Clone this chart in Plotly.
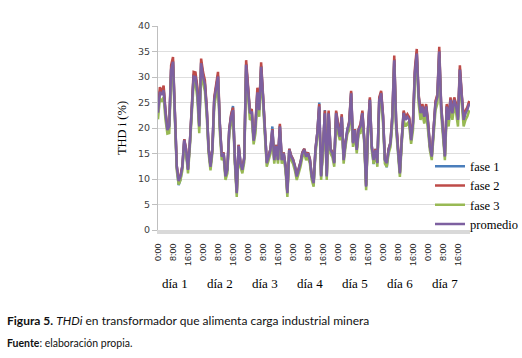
import plotly.graph_objects as go

# Hourly THDi values (%), 7 days starting at 0:00 of day 1
promedio = [
    23.0, 27.1, 26.5, 27.4, 22.9, 19.6, 20.3, 31.4, 33.0, 24.0,
    12.4, 9.6, 10.5, 12.4, 17.6, 15.7, 11.8, 17.0, 24.0, 30.1,
    30.0, 27.1, 20.3, 32.7, 30.1, 28.5, 23.5, 15.7, 12.4, 15.7,
    25.5, 27.5, 30.1, 20.3, 14.4, 15.0, 10.5, 11.8, 19.6, 22.2,
    23.5, 13.7, 7.2, 16.5, 13.0, 11.8, 14.0, 32.4, 26.8, 22.9,
    23.2, 17.5, 20.3, 27.0, 23.5, 32.0, 26.1, 20.0, 13.1, 14.4,
    15.7, 19.6, 13.7, 16.5, 13.7, 20.3, 13.7, 15.0, 12.4, 7.2,
    15.7, 14.4, 13.7, 12.4, 10.5, 11.8, 13.1, 15.0, 15.7, 14.4,
    15.0, 13.7, 10.5, 9.2, 15.7, 19.0, 24.2, 10.5, 15.7, 22.9,
    10.5, 22.9, 15.7, 15.0, 13.1, 22.9, 20.3, 18.3, 22.2, 13.7,
    17.0, 19.6, 20.9, 26.8, 17.0, 19.6, 15.7, 19.6, 20.3, 22.9,
    17.6, 8.5, 19.6, 25.5, 16.3, 13.7, 15.7, 13.1, 25.5, 26.8,
    22.2, 13.7, 13.1, 15.7, 17.0, 22.2, 33.3, 20.9, 15.7, 11.1,
    17.6, 22.9, 21.6, 22.2, 21.6, 17.6, 20.9, 30.7, 34.6, 26.1,
    22.9, 24.2, 22.2, 24.2, 20.9, 16.3, 14.4, 19.6, 24.8, 26.1,
    35.0, 24.2, 19.0, 14.4, 24.2, 21.6, 25.5, 22.9, 25.5, 24.2,
    21.6, 31.4, 26.1, 21.6, 22.9, 23.6, 24.8,
]

fase1 = [
    23.2, 27.3, 26.7, 27.6, 23.1, 19.8, 20.5, 31.6, 33.2, 24.2,
    12.6, 8.8, 9.9, 12.6, 17.8, 15.0, 12.0, 17.2, 24.2, 30.3,
    30.2, 27.3, 20.5, 32.9, 30.3, 28.7, 23.7, 15.9, 12.6, 15.9,
    25.7, 27.7, 30.3, 20.5, 14.6, 15.2, 10.7, 12.0, 19.8, 22.4,
    24.3, 13.9, 7.4, 16.7, 13.2, 12.0, 14.2, 32.6, 27.0, 23.1,
    23.4, 17.7, 20.5, 27.2, 23.7, 32.2, 26.3, 20.2, 13.3, 14.6,
    15.9, 20.3, 13.9, 16.7, 13.9, 20.5, 13.9, 15.2, 12.6, 7.4,
    15.9, 14.6, 13.9, 12.6, 10.7, 12.0, 13.3, 15.2, 15.9, 14.6,
    15.2, 13.9, 10.7, 9.4, 15.9, 19.2, 25.0, 10.7, 15.9, 23.5,
    10.7, 23.1, 15.9, 15.2, 13.3, 23.1, 20.5, 18.5, 22.4, 13.9,
    17.2, 19.8, 21.1, 27.0, 17.2, 19.8, 15.9, 19.8, 20.5, 23.1,
    17.8, 8.7, 19.8, 25.7, 16.5, 12.9, 15.9, 13.3, 25.7, 27.0,
    22.4, 13.9, 12.3, 15.9, 17.2, 22.4, 33.5, 21.1, 15.9, 11.3,
    17.8, 23.1, 21.8, 22.4, 21.8, 17.8, 21.1, 30.9, 34.8, 26.3,
    23.1, 24.4, 21.4, 24.4, 21.1, 16.5, 14.6, 19.8, 25.0, 26.3,
    35.2, 24.4, 19.2, 14.6, 24.4, 20.8, 25.7, 23.1, 25.7, 24.4,
    21.8, 31.6, 26.3, 21.8, 23.1, 23.8, 25.0,
]

fase2 = [
    23.5, 28.0, 27.0, 28.3, 23.4, 19.8, 20.8, 32.3, 33.9, 24.5,
    12.6, 9.8, 10.7, 12.6, 17.8, 15.9, 12.0, 17.2, 24.5, 31.0,
    30.9, 28.0, 20.8, 33.6, 31.0, 29.4, 24.0, 15.9, 12.6, 15.9,
    26.0, 28.4, 31.0, 20.8, 14.6, 15.2, 10.7, 12.0, 19.8, 22.7,
    24.0, 13.9, 7.4, 16.7, 13.2, 12.0, 14.2, 33.3, 27.3, 23.4,
    23.7, 17.7, 20.8, 27.9, 24.0, 32.9, 26.6, 20.5, 13.3, 14.6,
    15.9, 19.8, 13.9, 16.7, 13.9, 20.8, 13.9, 15.2, 12.6, 7.4,
    15.9, 14.6, 13.9, 12.6, 10.7, 12.0, 13.3, 15.2, 15.9, 14.6,
    15.2, 13.9, 10.7, 9.4, 15.9, 19.2, 24.7, 10.7, 15.9, 23.4,
    10.7, 23.4, 15.9, 15.2, 13.3, 23.4, 20.8, 18.5, 22.7, 13.9,
    17.2, 19.8, 21.4, 27.3, 17.2, 19.8, 15.9, 19.8, 20.8, 23.4,
    17.8, 8.7, 19.8, 26.0, 16.5, 13.9, 15.9, 13.3, 26.0, 27.3,
    22.7, 13.9, 13.3, 15.9, 17.2, 22.7, 34.2, 21.4, 15.9, 11.3,
    17.8, 23.4, 22.1, 22.7, 22.1, 17.8, 21.4, 31.6, 35.5, 26.6,
    23.4, 24.7, 22.7, 24.7, 21.4, 16.5, 14.6, 19.8, 25.3, 26.6,
    35.9, 24.7, 19.2, 14.6, 24.7, 22.1, 26.0, 23.4, 26.0, 24.7,
    22.1, 32.3, 26.6, 22.1, 23.4, 24.1, 25.3,
]

fase3 = [
    21.7, 25.8, 25.2, 26.1, 21.6, 18.9, 19.0, 30.1, 31.7, 22.7,
    11.7, 8.9, 9.8, 11.7, 16.9, 15.0, 11.1, 16.3, 22.7, 28.8,
    28.7, 25.8, 19.0, 31.4, 28.8, 27.2, 22.2, 15.0, 11.7, 15.0,
    24.2, 26.2, 28.8, 19.0, 13.7, 14.3, 9.8, 11.1, 18.9, 20.9,
    22.2, 13.0, 6.5, 15.8, 12.3, 11.1, 13.3, 31.1, 25.5, 21.6,
    21.9, 16.8, 19.0, 25.7, 22.2, 30.7, 24.8, 18.7, 12.4, 13.7,
    15.0, 18.9, 13.0, 15.8, 13.0, 19.0, 13.0, 14.3, 11.7, 6.5,
    15.0, 13.7, 13.0, 11.7, 9.8, 11.1, 12.4, 14.3, 15.0, 13.7,
    14.3, 13.0, 9.8, 8.5, 15.0, 18.3, 22.9, 9.8, 15.0, 21.6,
    9.8, 21.6, 15.0, 14.3, 12.4, 21.6, 19.0, 17.6, 20.9, 13.0,
    16.3, 18.9, 19.6, 25.5, 16.3, 18.9, 15.0, 18.9, 19.0, 21.6,
    16.9, 7.8, 18.9, 24.2, 15.6, 13.0, 15.0, 12.4, 24.2, 25.5,
    20.9, 13.0, 12.4, 15.0, 16.3, 20.9, 32.0, 19.6, 15.0, 10.4,
    16.9, 21.6, 20.3, 20.9, 20.3, 16.9, 19.6, 29.4, 33.3, 24.8,
    21.6, 22.9, 20.9, 22.9, 19.6, 15.6, 13.7, 18.9, 23.5, 24.8,
    33.7, 22.9, 18.3, 13.7, 22.9, 20.3, 24.2, 21.6, 24.2, 22.9,
    20.3, 30.1, 24.8, 20.3, 21.6, 22.3, 23.5,
]

hours = list(range(len(promedio)))
tick_hours = [0, 8, 16, 24, 32, 40, 48, 56, 64, 72, 80, 88, 96, 104,
              112, 120, 128, 136, 144, 152, 160]
tick_labels = ["0:00", "8:00", "16:00"] * 7
day_labels = ["día 1", "día 2", "día 3", "día 4", "día 5", "día 6", "día 7"]

series = [
    ("fase 1", fase1, "#4A7EBB"),
    ("fase 2", fase2, "#BE4B48"),
    ("fase 3", fase3, "#98B954"),
    ("promedio", promedio, "#7D60A0"),
]

fig = go.Figure()
for name, vals, col in series:
    fig.add_trace(go.Scatter(x=hours, y=vals, mode="lines", name=name,
                             line=dict(color=col, width=2.5)))

# plot area in pixels (figure is a bit wider than the window so the legend can sit far right)
L, R, T, B = 158, 470, 26, 230
W, H = 545, 358
pw, ph = R - L, B - T

def px_x(p):
    return (p - L) / pw

def px_y(p):
    return (B - p) / ph

annotations = []
for k, lab in enumerate(day_labels):
    annotations.append(dict(x=24 * k + 9, y=px_y(283), xref="x", yref="paper",
                            text=lab, showarrow=False, xanchor="center", yanchor="middle",
                            font=dict(family="Liberation Serif", size=13, color="#000")))
annotations.append(dict(x=px_x(5), y=px_y(320), xref="paper", yref="paper",
                        text="<b>Figura 5.</b> <i>THDi</i> en transformador que alimenta carga industrial minera",
                        showarrow=False, xanchor="left", yanchor="middle",
                        font=dict(family="Lato", size=12, color="#111")))
annotations.append(dict(x=px_x(5), y=px_y(343), xref="paper", yref="paper",
                        text="<b>Fuente</b>: elaboración propia.",
                        showarrow=False, xanchor="left", yanchor="middle",
                        font=dict(family="Lato", size=10.5, color="#111")))

fig.update_layout(
    width=W, height=H, autosize=False,
    margin=dict(l=L, r=W - R, t=T, b=H - B, pad=0),
    paper_bgcolor="white", plot_bgcolor="white",
    showlegend=True,
    legend=dict(x=px_x(430), y=px_y(195), xanchor="left", yanchor="middle",
                bgcolor="rgba(0,0,0,0)", font=dict(family="Liberation Serif", size=12.5, color="#000"),
                tracegroupgap=0, borderwidth=0),
    hovermode=False,
    annotations=annotations,
    xaxis=dict(range=[0, 166.4], tickmode="array", tickvals=tick_hours, ticktext=tick_labels,
               tickangle=-90, showgrid=False, zeroline=False,
               showline=True, linecolor="#d9d9d9", linewidth=4,
               ticks="", ticklabelstandoff=6,
               tickfont=dict(family="Liberation Sans", size=9, color="#222")),
    yaxis=dict(range=[0, 40], dtick=5, showgrid=True, gridcolor="#dedede", gridwidth=1,
               zeroline=False, showline=True, linecolor="#bfbfbf", linewidth=1,
               ticks="outside", ticklen=5, tickcolor="#bfbfbf",
               tickfont=dict(family="DejaVu Sans", size=9.5, color="#404040"),
               title=dict(text="THD i (%)", standoff=8,
                          font=dict(family="Liberation Serif", size=12.5, color="#000"))),
)

fig.write_html("out.html", config={"displayModeBar": False},
               post_script="document.body.style.margin='0';document.body.style.overflow='hidden';")
